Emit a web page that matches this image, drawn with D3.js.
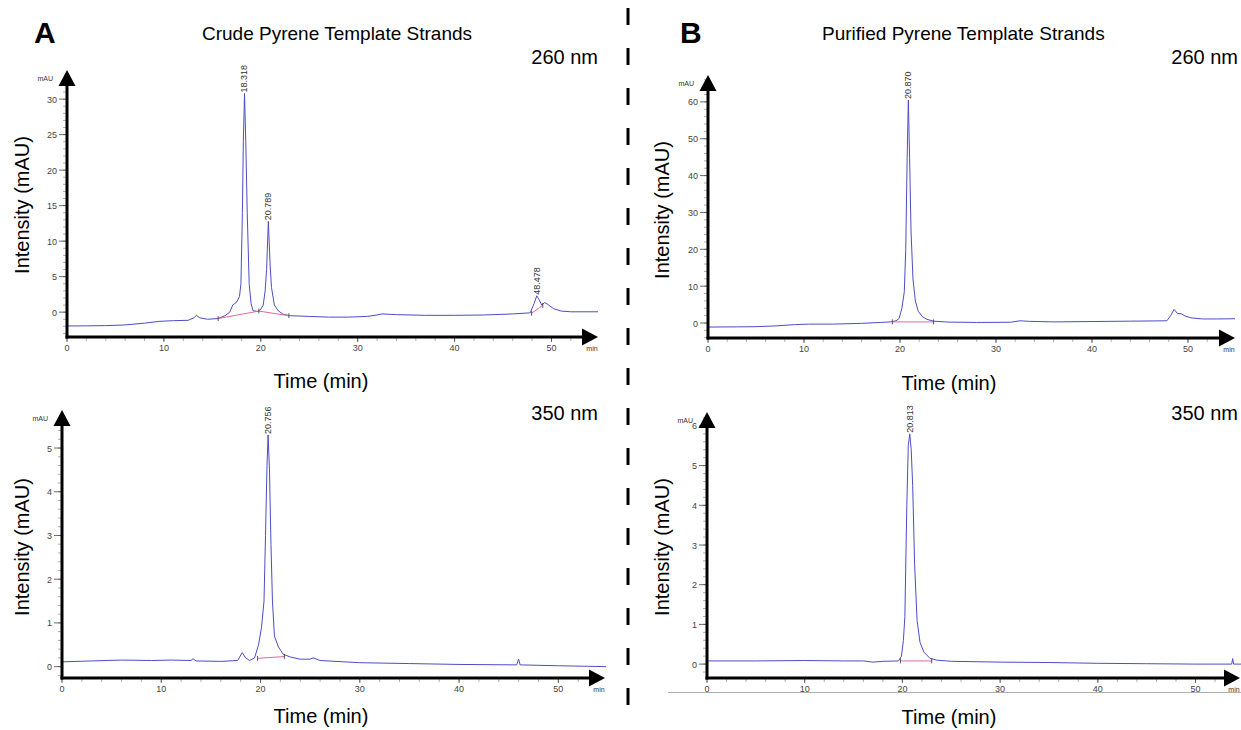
<!DOCTYPE html>
<html>
<head>
<meta charset="utf-8">
<script src="https://cdn.jsdelivr.net/npm/d3@7"></script>
<style>
  body { margin: 0; background: #fff; }
  text { font-family: Arial, "Liberation Sans", sans-serif; }
</style>
</head>
<body>
<script>
// Chromatogram traces (time in min, absorbance in mAU)
const timeCrude260 = [0, 2, 4, 6, 8, 9.5, 11, 12.5, 13.1, 13.35, 13.7, 14.5, 15.6, 16.3, 16.8, 17.1, 17.5, 17.8, 17.95, 18.1, 18.2, 18.32, 18.45, 18.6, 18.8, 19.0, 19.2, 19.7, 20.0, 20.25, 20.45, 20.6, 20.78, 20.95, 21.1, 21.4, 21.8, 22.3, 23, 25, 27, 29, 31, 32, 32.5, 34, 37, 40, 43, 46, 47.8, 48.2, 48.48, 48.7, 49.0, 49.3, 49.6, 50.2, 51, 52, 54.8];
const absCrude260 = [-1.95, -1.93, -1.9, -1.8, -1.55, -1.3, -1.2, -1.15, -0.8, -0.45, -0.8, -1.0, -0.9, -0.5, 0.0, 1.0, 1.4, 2.2, 4, 14, 24, 30.8, 24, 14, 4, 1.2, 0.2, 0.1, 0.4, 1.0, 3, 6, 12.8, 7, 3.5, 1.0, 0.2, -0.3, -0.5, -0.6, -0.7, -0.7, -0.6, -0.4, -0.25, -0.35, -0.45, -0.45, -0.4, -0.25, -0.1, 1.2, 2.3, 1.8, 1.0, 1.35, 1.1, 0.5, 0.15, 0.05, 0.05];

const timePure260 = [0, 3, 5, 7, 9, 10.5, 13, 16, 18, 19, 19.6, 19.9, 20.2, 20.45, 20.6, 20.75, 20.87, 21.0, 21.15, 21.35, 21.6, 21.9, 22.3, 22.8, 23.5, 25, 28, 31.5, 32.5, 33.5, 36, 40, 44, 47.8, 48.2, 48.55, 48.9, 49.3, 49.7, 50.3, 51.5, 53, 54.9];
const absPure260 = [-1.1, -1.05, -1.0, -0.8, -0.45, -0.3, -0.3, -0.1, 0.15, 0.3, 0.6, 1.2, 4, 8.5, 20, 45, 60.5, 45, 25, 12, 6, 3.2, 1.8, 1.0, 0.5, 0.25, 0.15, 0.2, 0.6, 0.45, 0.3, 0.4, 0.5, 0.6, 2, 3.7, 2.6, 2.5, 1.9, 1.4, 1.1, 1.1, 1.15];

const timeCrude350 = [0, 3, 6, 9, 11, 13, 13.2, 13.5, 16, 17.7, 18.15, 18.5, 18.9, 19.4, 19.8, 20.1, 20.35, 20.5, 20.65, 20.76, 20.9, 21.05, 21.2, 21.4, 21.8, 22.3, 23, 24, 25, 25.3, 26, 30, 35, 40, 45.8, 46.0, 46.15, 50, 54.8];
const absCrude350 = [0.11, 0.13, 0.15, 0.14, 0.15, 0.14, 0.18, 0.13, 0.12, 0.14, 0.32, 0.2, 0.14, 0.2, 0.5, 0.9, 1.5, 3, 4.6, 5.3, 4.5, 2.8, 1.5, 0.7, 0.45, 0.28, 0.22, 0.17, 0.17, 0.2, 0.14, 0.09, 0.07, 0.05, 0.04, 0.17, 0.04, 0.02, 0.0];

const timePure350 = [0, 5, 10, 14, 16, 17, 18, 19.6, 19.9, 20.1, 20.25, 20.45, 20.6, 20.75, 20.9, 21.05, 21.25, 21.5, 21.8, 22.2, 22.8, 23.5, 25, 30, 35, 40, 45, 50, 53.7, 53.8, 53.9, 54.7];
const absPure350 = [0.08, 0.08, 0.09, 0.08, 0.08, 0.05, 0.07, 0.08, 0.2, 0.6, 1.2, 4.0, 5.5, 5.8, 5.4, 4.5, 2.5, 1.1, 0.55, 0.3, 0.15, 0.1, 0.07, 0.05, 0.04, 0.02, 0.01, 0.0, 0.0, 0.14, 0.0, 0.0];

// integration baselines [time, mAU]
const baseCrude260 = [[[15.6, -0.9], [19.8, 0.15], [22.9, -0.5]], [[47.95, -0.15], [49.1, 0.95]]];
const basePure260 = [[[19.2, 0.3], [23.5, 0.3]]];
const baseCrude350 = [[[19.7, 0.19], [22.4, 0.23]]];
const basePure350 = [[[19.8, 0.08], [23.0, 0.08]]];

// peak retention-time labels [time, mAU, text]
const peaksCrude260 = [[18.318, 30.8, "18.318"], [20.789, 12.8, "20.789"], [48.478, 2.3, "48.478"]];
const peaksPure260 = [[20.870, 60.5, "20.870"]];
const peaksCrude350 = [[20.756, 5.3, "20.756"]];
const peaksPure350 = [[20.813, 5.8, "20.813"]];

const yTicksCrude260 = [0, 5, 10, 15, 20, 25, 30];
const yTicksPure260 = [0, 10, 20, 30, 40, 50, 60];
const yTicks350 = [0, 1, 2, 3, 4, 5];
const yTicksPure350 = [0, 1, 2, 3, 4, 5, 6];
const xTicks = [0, 10, 20, 30, 40, 50];

const w = 1241;
const h = 730;
const lineColor = "#4d4dc6";
const baseColor = "#e06aa0";

const svg = d3.select("body").append("svg")
  .attr("width", w)
  .attr("height", h)
  .style("background", "#fff");

// panel layouts (pixel positions of the axes)
const panels = [
  { t: timeCrude260, v: absCrude260, base: baseCrude260, peaks: peaksCrude260, yTicks: yTicksCrude260, yMinor: 1,
    left: 67, right: 598, bottom: 337, top: 70, xMax: 54.8, yDomain: [-3.5, 34.1], nm: "260 nm", nmX: 598, nmY: 64,
    yTitleX: 29, yTitleY: 205, xTitleX: 321, xTitleY: 388 },
  { t: timePure260, v: absPure260, base: basePure260, peaks: peaksPure260, yTicks: yTicksPure260, yMinor: 2,
    left: 708, right: 1235, bottom: 338, top: 75, xMax: 54.9, yDomain: [-4.07, 67.3], nm: "260 nm", nmX: 1238, nmY: 64,
    yTitleX: 669, yTitleY: 210, xTitleX: 949, xTitleY: 390 },
  { t: timeCrude350, v: absCrude350, base: baseCrude350, peaks: peaksCrude350, yTicks: yTicks350, yMinor: 0.2,
    left: 62, right: 605, bottom: 678, top: 410, xMax: 54.7, yDomain: [-0.26, 5.87], nm: "350 nm", nmX: 598, nmY: 420,
    yTitleX: 29, yTitleY: 547, xTitleX: 321, xTitleY: 723 },
  { t: timePure350, v: absPure350, base: basePure350, peaks: peaksPure350, yTicks: yTicksPure350, yMinor: 0.2,
    left: 707, right: 1240, bottom: 678, top: 412, xMax: 54.55, yDomain: [-0.35, 6.35], nm: "350 nm", nmX: 1238, nmY: 420,
    yTitleX: 669, yTitleY: 547, xTitleX: 949, xTitleY: 724 }
];

// grey rule under the lower right panel
svg.append("line")
  .attr("x1", 668).attr("x2", w)
  .attr("y1", 692.5).attr("y2", 692.5)
  .attr("stroke", "#b0b0b0").attr("stroke-width", 1);

panels.forEach(p => {
  const x = d3.scaleLinear().domain([0, p.xMax]).range([p.left, p.right]);
  const y = d3.scaleLinear().domain(p.yDomain).range([p.bottom, p.top]);
  const g = svg.append("g");

  // trace
  const line = d3.line().x(d => x(d[0])).y(d => y(d[1]));
  g.append("path")
    .datum(p.t.map((t, i) => [t, p.v[i]]))
    .attr("d", line)
    .attr("fill", "none")
    .attr("stroke", lineColor)
    .attr("stroke-width", 1);

  // integration baselines and their end marks
  p.base.forEach(seg => {
    g.append("path")
      .datum(seg)
      .attr("d", line)
      .attr("fill", "none")
      .attr("stroke", baseColor)
      .attr("stroke-width", 1);
    seg.forEach(d => {
      g.append("line")
        .attr("x1", x(d[0])).attr("x2", x(d[0]))
        .attr("y1", y(d[1]) - 2.5).attr("y2", y(d[1]) + 2.5)
        .attr("stroke", "#333").attr("stroke-width", 0.8);
    });
  });

  // peak labels
  p.peaks.forEach(d => {
    g.append("text")
      .attr("transform", `translate(${x(d[0]) + 3},${y(d[1]) - 1}) rotate(-90)`)
      .attr("font-size", "9px")
      .attr("fill", "#333")
      .text(d[2]);
  });

  // y ticks
  const yMin = Math.ceil(p.yDomain[0] / p.yMinor) * p.yMinor;
  const minorY = d3.range(yMin, p.yDomain[1] - p.yMinor * 0.5, p.yMinor);
  g.selectAll(".ymin").data(minorY).enter().append("line")
    .attr("x1", p.left - 4).attr("x2", p.left)
    .attr("y1", d => y(d)).attr("y2", d => y(d))
    .attr("stroke", "#777").attr("stroke-width", 0.6);
  g.selectAll(".ymaj").data(p.yTicks).enter().append("line")
    .attr("x1", p.left - 8).attr("x2", p.left)
    .attr("y1", d => y(d)).attr("y2", d => y(d))
    .attr("stroke", "#444").attr("stroke-width", 0.8);
  g.selectAll(".ylab").data(p.yTicks).enter().append("text")
    .attr("x", p.left - 10)
    .attr("y", d => y(d) + 3.5)
    .attr("text-anchor", "end")
    .attr("font-size", "9px")
    .attr("fill", "#444")
    .text(d => d);

  // x ticks
  const minorX = d3.range(0, p.xMax - 1, 2);
  g.selectAll(".xmin").data(minorX).enter().append("line")
    .attr("x1", d => x(d)).attr("x2", d => x(d))
    .attr("y1", p.bottom).attr("y2", p.bottom + 4)
    .attr("stroke", "#777").attr("stroke-width", 0.6);
  g.selectAll(".xmaj").data(xTicks).enter().append("line")
    .attr("x1", d => x(d)).attr("x2", d => x(d))
    .attr("y1", p.bottom).attr("y2", p.bottom + 5)
    .attr("stroke", "#444").attr("stroke-width", 0.8);
  g.selectAll(".xlab").data(xTicks).enter().append("text")
    .attr("x", d => x(d))
    .attr("y", p.bottom + 14)
    .attr("text-anchor", "middle")
    .attr("font-size", "9px")
    .attr("fill", "#444")
    .text(d => d);

  // axes with arrow heads
  g.append("line")
    .attr("x1", p.left).attr("x2", p.left)
    .attr("y1", p.bottom + 1.5).attr("y2", p.top + 8)
    .attr("stroke", "#000").attr("stroke-width", 3);
  g.append("line")
    .attr("x1", p.left - 1.5).attr("x2", p.right - 8)
    .attr("y1", p.bottom).attr("y2", p.bottom)
    .attr("stroke", "#000").attr("stroke-width", 3);
  g.append("path")
    .attr("d", `M${p.left - 8.5},${p.top + 16}L${p.left},${p.top}L${p.left + 8.5},${p.top + 16}Z`)
    .attr("fill", "#000");
  g.append("path")
    .attr("d", `M${p.right - 16},${p.bottom - 8.5}L${p.right},${p.bottom}L${p.right - 16},${p.bottom + 8.5}Z`)
    .attr("fill", "#000");

  g.append("text")
    .attr("x", p.left - 14).attr("y", p.top + 11)
    .attr("text-anchor", "end")
    .attr("font-size", "7px")
    .attr("fill", "#333")
    .text("mAU");
  g.append("text")
    .attr("x", p.right - 6).attr("y", p.bottom + 14)
    .attr("text-anchor", "middle")
    .attr("font-size", "7px")
    .attr("fill", "#333")
    .text("min");

  // wavelength and axis titles
  g.append("text")
    .attr("x", p.nmX).attr("y", p.nmY)
    .attr("text-anchor", "end")
    .attr("font-size", "20px")
    .text(p.nm);
  g.append("text")
    .attr("transform", `translate(${p.yTitleX},${p.yTitleY}) rotate(-90)`)
    .attr("text-anchor", "middle")
    .attr("font-size", "20px")
    .text("Intensity (mAU)");
  g.append("text")
    .attr("x", p.xTitleX).attr("y", p.xTitleY)
    .attr("text-anchor", "middle")
    .attr("font-size", "20px")
    .text("Time (min)");
});

// panel letters and titles
svg.append("text").attr("x", 34).attr("y", 43)
  .attr("font-size", "30px").attr("font-weight", "bold").text("A");
svg.append("text").attr("x", 680).attr("y", 43)
  .attr("font-size", "30px").attr("font-weight", "bold").text("B");
svg.append("text").attr("x", 202).attr("y", 40)
  .attr("font-size", "19px").text("Crude Pyrene Template Strands");
svg.append("text").attr("x", 822).attr("y", 40)
  .attr("font-size", "19px").text("Purified Pyrene Template Strands");

// dashed divider
svg.append("line")
  .attr("x1", 628).attr("x2", 628)
  .attr("y1", 8).attr("y2", 705)
  .attr("stroke", "#000").attr("stroke-width", 3)
  .attr("stroke-dasharray", "17 23");
</script>
</body>
</html>
